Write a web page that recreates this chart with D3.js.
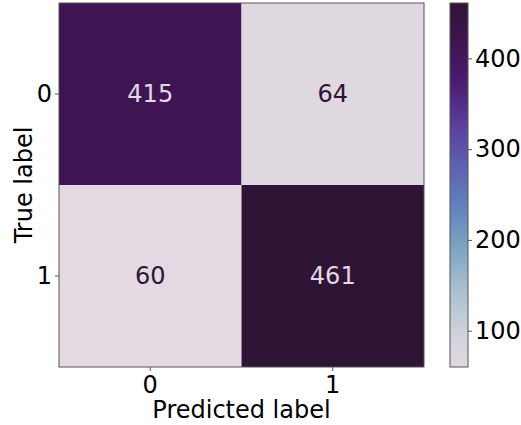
<!DOCTYPE html>
<html>
<head>
<meta charset="utf-8">
<script src="https://cdn.jsdelivr.net/npm/d3@7"></script>
<style>
  html, body { margin: 0; padding: 0; background: #fff; }
  svg text { font-family: "DejaVu Sans", sans-serif; }
</style>
</head>
<body>
<svg id="chart" width="521" height="425"></svg>
<script>
// Confusion matrix: rows = true label, columns = predicted label
const classes = ["0", "1"];
const counts = [
  [415, 64],
  [60, 461]
];
const colorbarTicks = [100, 200, 300, 400];

// Purple–blue–light sequential palette (first half of "twilight")
const paletteStops = ["#e2d9e2", "#cbd0da", "#a6bfcd", "#7aa3c2", "#6082bb", "#5d60b1", "#5b3f9d", "#4a1c72", "#3f1451", "#2f1436"];

const svg = d3.select("#chart");
const plot = { left: 59, top: 3, width: 365, height: 364 };
const cbar = { left: 450, top: 3, width: 18, height: 364 };

const allVals = counts.flat();
const vmin = d3.min(allVals), vmax = d3.max(allVals);

const color = d3.scaleLinear()
  .domain(paletteStops.map((_, i) => vmin + (vmax - vmin) * i / (paletteStops.length - 1)))
  .range(paletteStops)
  .interpolate(d3.interpolateRgb);

const x = d3.scaleBand().domain(classes).range([plot.left, plot.left + plot.width]);
const y = d3.scaleBand().domain(classes).range([plot.top, plot.top + plot.height]);

const cells = [];
counts.forEach((row, i) => row.forEach((v, j) => cells.push({ t: classes[i], p: classes[j], v })));

svg.append("g").selectAll("rect").data(cells).join("rect")
  .attr("x", d => x(d.p)).attr("y", d => y(d.t))
  .attr("width", x.bandwidth()).attr("height", y.bandwidth())
  .attr("fill", d => color(d.v));

const mid = (vmin + vmax) / 2;
svg.append("g").selectAll("text").data(cells).join("text")
  .attr("x", d => x(d.p) + x.bandwidth() / 2)
  .attr("y", d => y(d.t) + y.bandwidth() / 2)
  .attr("text-anchor", "middle").attr("dominant-baseline", "central")
  .attr("font-size", 24)
  .attr("fill", d => d.v > mid ? paletteStops[0] : paletteStops[paletteStops.length - 1])
  .text(d => d.v);

// Frame
svg.append("rect")
  .attr("x", plot.left).attr("y", plot.top)
  .attr("width", plot.width).attr("height", plot.height)
  .attr("fill", "none").attr("stroke", "#555").attr("stroke-width", 1);

// Axes
const xAxis = svg.append("g")
  .attr("transform", `translate(0,${plot.top + plot.height})`)
  .call(d3.axisBottom(x).tickSize(4).tickPadding(5));
const yAxis = svg.append("g")
  .attr("transform", `translate(${plot.left},0)`)
  .call(d3.axisLeft(y).tickSize(4).tickPadding(3));
[xAxis, yAxis].forEach(g => {
  g.select(".domain").remove();
  g.selectAll(".tick line").attr("stroke", "#555");
  g.selectAll(".tick text").attr("font-size", 24).attr("fill", "#000")
    .style("font-family", "DejaVu Sans, sans-serif");
});

svg.append("text")
  .attr("x", plot.left + plot.width / 2).attr("y", 418)
  .attr("text-anchor", "middle").attr("font-size", 24).attr("fill", "#000")
  .text("Predicted label");

svg.append("text")
  .attr("transform", `translate(32,${plot.top + plot.height / 2}) rotate(-90)`)
  .attr("text-anchor", "middle").attr("font-size", 24).attr("fill", "#000")
  .text("True label");

// Colorbar
const cScale = d3.scaleLinear().domain([vmin, vmax]).range([cbar.top + cbar.height, cbar.top]);
const defs = svg.append("defs");
const grad = defs.append("linearGradient").attr("id", "cbgrad")
  .attr("x1", 0).attr("y1", 1).attr("x2", 0).attr("y2", 0);
d3.range(0, 1.0001, 0.05).forEach(t => {
  grad.append("stop").attr("offset", t).attr("stop-color", color(vmin + t * (vmax - vmin)));
});
svg.append("rect")
  .attr("x", cbar.left).attr("y", cbar.top)
  .attr("width", cbar.width).attr("height", cbar.height)
  .attr("fill", "url(#cbgrad)").attr("stroke", "#555").attr("stroke-width", 1);

const cAxis = svg.append("g")
  .attr("transform", `translate(${cbar.left + cbar.width},0)`)
  .call(d3.axisRight(cScale).tickValues(colorbarTicks).tickSize(4).tickPadding(3));
cAxis.select(".domain").remove();
cAxis.selectAll(".tick line").attr("stroke", "#555");
cAxis.selectAll(".tick text").attr("font-size", 24).attr("fill", "#000")
  .style("font-family", "DejaVu Sans, sans-serif");
</script>
</body>
</html>
